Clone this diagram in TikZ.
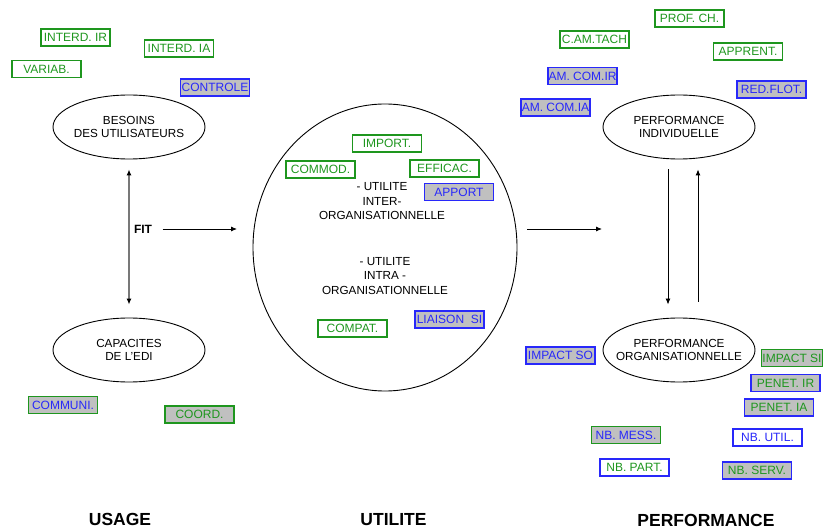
\documentclass[tikz,border=0pt]{standalone}
\usepackage{fontspec}
\setmainfont{Liberation Sans}
\usetikzlibrary{shapes.geometric,arrows.meta}

\definecolor{edigreen}{RGB}{30,150,30}
\definecolor{ediblue}{RGB}{40,40,250}
\definecolor{edigray}{RGB}{192,192,192}

\tikzset{
  tag/.style={draw, line width=1.1pt, minimum width=69pt, minimum height=17pt,
    inner sep=0pt, font=\fontsize{12}{13}\selectfont},
  greentag/.style={tag, draw=edigreen, text=edigreen},
  bluetag/.style={tag, draw=ediblue, text=ediblue, fill=edigray},
  bubble/.style={ellipse, draw, line width=0.9pt, minimum width=152pt,
    minimum height=64pt, inner sep=0pt},
  bubbletext/.style={align=center, font=\fontsize{11.7}{13.5}\selectfont},
  heading/.style={font=\bfseries\fontsize{17.5}{20}\selectfont},
  flow/.style={->, line width=0.9pt}
}

\begin{document}
\begin{tikzpicture}[x=1pt, y=-1pt, >={Latex[length=6pt,width=5pt]}]
\useasboundingbox (0,0) rectangle (827,529);

% the four ellipses and the big one
\node[bubble] (besoins) at (129,127) {};
\node[bubbletext] (besoinstxt) at (besoins) {BESOINS\\DES UTILISATEURS};
\node[bubble] (capacites) at (129,350) {};
\node[bubbletext] (capacitestxt) at (capacites) {CAPACITES\\DE L'EDI};
\node[bubble] (perfind) at (679,127) {};
\node[bubbletext] (perfindtxt) at (perfind) {PERFORMANCE\\INDIVIDUELLE};
\node[bubble] (perforg) at (679,350) {};
\node[bubbletext] (perforgtxt) at (perforg) {PERFORMANCE\\ORGANISATIONNELLE};
\node[ellipse, draw, line width=0.9pt, minimum width=264pt, minimum height=287pt,
  inner sep=0pt] (utilite) at (385,247.5) {};

\node[bubbletext, align=center, font=\fontsize{11.7}{14.5}\selectfont] (inter) at (382,201.5)
  {- UTILITE\\INTER-\\ORGANISATIONNELLE};
\node[bubbletext, align=center, font=\fontsize{11.7}{14.5}\selectfont] (intra) at (385,276)
  {- UTILITE\\INTRA -\\ORGANISATIONNELLE};

% usage
\node[greentag] (interdir) at (75.5,37.5) {INTERD. IR};
\node[greentag] (interdia) at (179,48.5) {INTERD. IA};
\node[greentag] (variab) at (46.5,69) {VARIAB.};
\node[bluetag] (controle) at (215,87.5) {CONTROLE};
\node[bluetag, draw=edigreen] (communi) at (63,405) {COMMUNI.};
\node[bluetag, draw=edigreen, text=edigreen] (coord) at (199.5,414.5) {COORD.};

% utilite
\node[greentag] (import) at (387,143.5) {IMPORT.};
\node[greentag] (commod) at (320.5,169.5) {COMMOD.};
\node[greentag] (efficac) at (444.5,168.5) {EFFICAC.};
\node[bluetag] (apport) at (459,192) {APPORT};
\node[bluetag] (liaison) at (449.5,319.5) {LIAISON\ \ SI};
\node[greentag] (compat) at (352.5,328.5) {COMPAT.};

% performance
\node[greentag] (profch) at (689.5,18.5) {PROF. CH.};
\node[greentag] (camtach) at (594.5,39.5) {C.AM.TACH};
\node[greentag] (apprent) at (748,51.5) {APPRENT.};
\node[bluetag] (amcomir) at (582.5,76) {AM. COM.IR};
\node[bluetag] (redflot) at (771.5,89.5) {RED.FLOT.};
\node[bluetag] (amcomia) at (555.5,107.5) {AM. COM.IA};
\node[bluetag] (impactso) at (560.5,355.5) {IMPACT SO};
\node[bluetag, draw=edigreen, text=edigreen, minimum width=61pt] (impactsi) at (792,358) {IMPACT SI};
\node[bluetag, text=edigreen] (penetir) at (785.5,383) {PENET. IR};
\node[bluetag, text=edigreen] (penetia) at (779,407.5) {PENET. IA};
\node[bluetag, draw=edigreen] (nbmess) at (626,435) {NB. MESS.};
\node[bluetag, fill=white] (nbutil) at (767.5,437.5) {NB. UTIL.};
\node[bluetag, fill=white, text=edigreen] (nbpart) at (634.5,467.5) {NB. PART.};
\node[bluetag, text=edigreen] (nbserv) at (757,470.5) {NB. SERV.};

% arrows
\draw[<->, line width=1.2pt, draw={rgb,255:red,120;green,120;blue,120},
  >={Latex[length=6pt,width=5pt,color=black]}, shorten <=10pt, shorten >=13pt]
  (besoins.south) -- (capacites.north);
\node[font=\bfseries\fontsize{12}{14}\selectfont] (fit) at (143,229) {FIT};
\coordinate (fitend) at (237,229);
\draw[flow, shorten <=7pt] (fit.east) -- (fitend);
\coordinate (utilout) at (527,229);
\coordinate (perfin) at (602,229);
\draw[flow] (utilout) -- (perfin);
\draw[flow, shorten <=10pt, shorten >=13pt] ([xshift=-11pt]perfind.south) -- ([xshift=-11pt]perforg.north);
\draw[flow, shorten <=16pt, shorten >=10pt] ([xshift=19pt]perforg.north) -- ([xshift=19pt]perfind.south);

% headings
\node[heading] (usage) at (120,519.5) {USAGE};
\node[heading] (utiltitle) at (393.5,520) {UTILITE};
\node[heading] (perftitle) at (706,520) {PERFORMANCE};
\end{tikzpicture}
\end{document}
